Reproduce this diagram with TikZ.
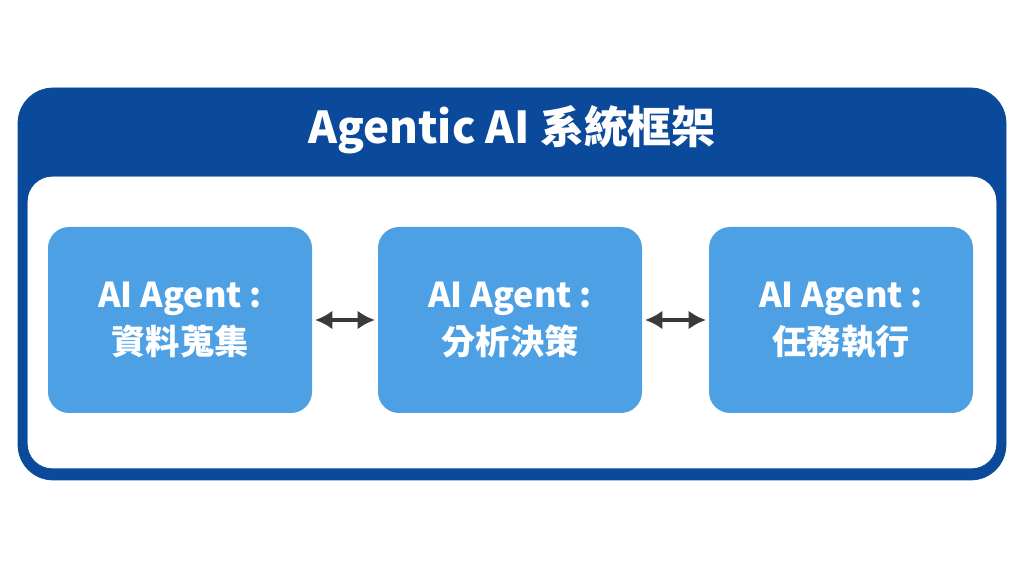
\documentclass[tikz,border=0pt]{standalone}
\usepackage{fontspec}
\setmainfont{Noto Sans CJK TC}
\usetikzlibrary{positioning,arrows.meta}

\definecolor{frameblue}{HTML}{0B4A9B}
\definecolor{agentblue}{HTML}{4DA0E3}
\definecolor{arrowgray}{HTML}{3A3A3A}

\tikzset{
    agent/.style={rectangle,rounded corners=12pt,fill=agentblue,minimum width=5.28cm,minimum height=3.72cm,
        text=white,font=\bfseries\fontsize{19.5}{27}\selectfont,align=center},
    link/.style={{Latex[length=3.5mm,width=3.8mm]}-{Latex[length=3.5mm,width=3.8mm]},line width=2.2pt,arrowgray,shorten <=1.5pt,shorten >=1.5pt}
}

\begin{document}
\begin{tikzpicture}
\useasboundingbox (0,0) rectangle (20.48,11.52);

\draw[fill=frameblue,draw=frameblue,rounded corners=20pt] (0.36,1.92) rectangle (20.12,9.76);
\draw[fill=white,draw=white,rounded corners=14pt] (0.56,2.16) rectangle (19.92,7.98);
\node[text=white,font=\bfseries\fontsize{25}{30}\selectfont] (title) at (10.24,8.92) {Agentic AI 系統框架};

\node[agent] (collect) at (3.6,5.12) {AI Agent :\\資料蒐集};
\node[agent] (decide) at (10.2,5.12) {AI Agent :\\分析決策};
\node[agent] (execute) at (16.82,5.12) {AI Agent :\\任務執行};

\draw[link] (collect) -- (decide);
\draw[link] (decide) -- (execute);
\end{tikzpicture}
\end{document}
